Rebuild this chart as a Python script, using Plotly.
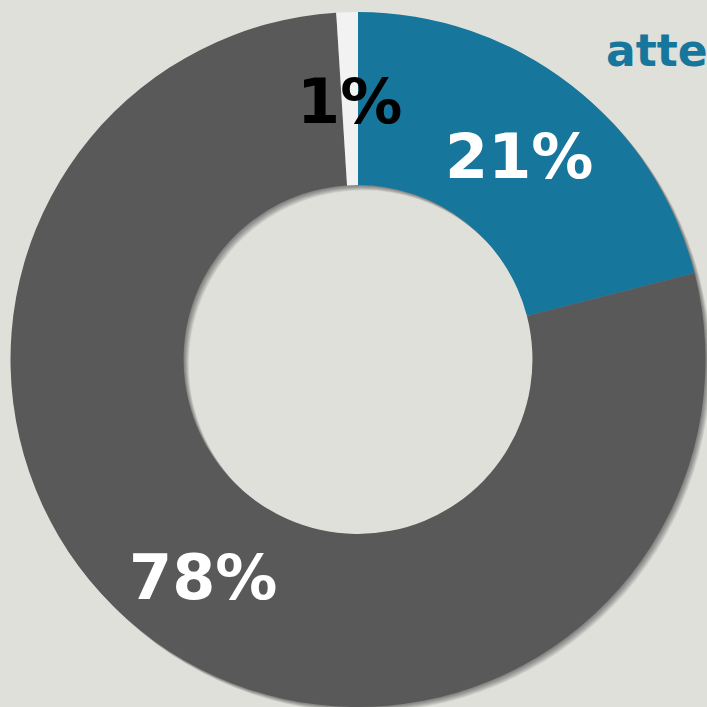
import math
import plotly.graph_objects as go

# Data
labels = ["Blue", "Gray", "White"]
values = [21, 78, 1]
colors = ["#17769B", "#595959", "#F2F2F2"]
text_colors = ["white", "white", "black"]
title_text = "atte"

# canvas slightly larger than the 707 window so the donut can be cropped like the reference
W = H = 720
cx, cy, R = 358.0, 359.5, 347.5      # donut centre / outer radius in pixels (from top-left)
HOLE = 0.502
R_LABEL = 263.0


def dom(dx=0.0, dy=0.0):
    return dict(
        x=[(cx + dx - R) / W, (cx + dx + R) / W],
        y=[(H - (cy + dy) - R) / H, (H - (cy + dy) + R) / H],
    )


fig = go.Figure()

# soft drop shadow (offset down-right), drawn first
for d in [7, 6, 5, 4, 3, 2, 1]:
    fig.add_trace(go.Pie(
        labels=labels, values=values, hole=HOLE,
        sort=False, direction="clockwise", rotation=0,
        marker=dict(colors=["rgba(40,40,30,0.085)"] * len(values), line=dict(width=0)),
        textinfo="none", hoverinfo="skip", showlegend=False,
        domain=dom(d * 0.75, d * 0.75),
    ))

fig.add_trace(go.Pie(
    labels=labels, values=values, hole=HOLE,
    sort=False, direction="clockwise", rotation=0,
    marker=dict(colors=colors, line=dict(width=0)),
    textinfo="none", showlegend=False,
    domain=dom(),
))

# percentage labels at each slice's mid-angle
total = sum(values)
cum = 0.0
for v, tc in zip(values, text_colors):
    mid = (cum + v / 2) / total
    cum += v
    th = 2 * math.pi * mid
    px = cx + R_LABEL * math.sin(th)
    py = cy - R_LABEL * math.cos(th)
    fig.add_annotation(
        text=f"{round(100 * v / total)}%", x=px / W, y=1 - py / H,
        xref="paper", yref="paper", xanchor="center", yanchor="middle",
        showarrow=False, yshift=-5,
        font=dict(family="DejaVu Sans", size=62, color=tc, weight="bold"),
    )

fig.add_annotation(
    text=title_text, x=604 / W, y=1 - 68 / H, xref="paper", yref="paper",
    xanchor="left", yanchor="bottom", showarrow=False,
    font=dict(family="DejaVu Sans", size=44, color="#17769B", weight="bold"),
    yshift=-10,
)

fig.update_layout(
    width=W, height=H,
    margin=dict(l=0, r=0, t=0, b=0),
    paper_bgcolor="#E0E0DB", plot_bgcolor="#E0E0DB",
)

fig.write_html(
    "out.html",
    config={"displayModeBar": False},
    post_script="document.body.style.margin='0';document.body.style.overflow='hidden';"
                "document.documentElement.style.overflow='hidden';",
)
